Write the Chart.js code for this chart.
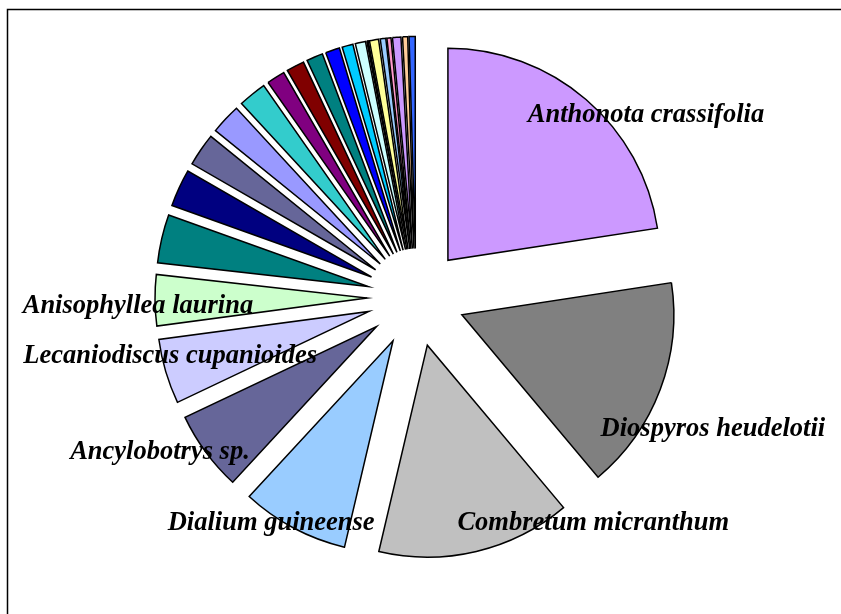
<!DOCTYPE html>
<html>
<head>
<meta charset="utf-8">
<script src="https://cdn.jsdelivr.net/npm/chart.js@4/dist/chart.umd.min.js"></script>
<style>
  html, body { margin: 0; padding: 0; background: #fff; }
  canvas { display: block; }
</style>
</head>
<body>
<canvas id="pieChart" width="841" height="614"></canvas>
<script>
// species shares (%), clockwise from 12 o'clock
const species = [
  "Anthonota crassifolia", "Diospyros heudelotii", "Combretum micranthum",
  "Dialium guineense", "Ancylobotrys sp.", "Lecaniodiscus cupanioides",
  "Anisophyllea laurina", "", "", "", "", "", "", "", "", "", "", "", "", "", "", "", "", "", ""
];
const shares = [
  22.58, 16.31, 14.78, 8.19, 6.08, 4.94, 3.89, 3.69, 2.86, 2.50, 2.31, 2.14,
  1.39, 1.36, 1.25, 1.08, 0.83, 0.78, 0.11, 0.69, 0.42, 0.31, 0.64, 0.39, 0.47
];

const sliceColors = [
  "#CC99FF", "#808080", "#C0C0C0", "#99CCFF", "#666699", "#CCCCFF", "#CCFFCC",
  "#008080", "#000080", "#666699", "#9999FF", "#33CCCC", "#800080", "#800000",
  "#008080", "#0000FF", "#00CCFF", "#CCFFFF", "#CCFFCC", "#FFFF99", "#99CCFF",
  "#FF99CC", "#CC99FF", "#FFCC99", "#3366FF"
];

// where each label sits: [degrees clockwise from top, distance in radii]
const labelSpots = [
  [51.3, 1.39], [113.6, 1.528], [141.6, 1.346], [212.9, 1.258],
  [239.2, 1.406], [257.0, 1.19], [268.6, 1.312]
];

const EXPLODE = 49;

// every slice pushed out the same distance, like an exploded Excel pie
const explodePlugin = {
  id: "explode",
  beforeDatasetDraw(chart, args) {
    const ctx = chart.ctx;
    args.meta.data.forEach(arc => {
      const mid = (arc.startAngle + arc.endAngle) / 2;
      ctx.save();
      ctx.translate(Math.cos(mid) * EXPLODE, Math.sin(mid) * EXPLODE);
      arc.draw(ctx);
      ctx.restore();
    });
    return false;
  }
};

const labelPlugin = {
  id: "sliceLabels",
  afterDatasetsDraw(chart) {
    const ctx = chart.ctx;
    const arc0 = chart.getDatasetMeta(0).data[0];
    const cx = arc0.x, cy = arc0.y, r = arc0.outerRadius;
    ctx.save();
    ctx.font = "italic bold 26.5px 'Liberation Serif', 'Times New Roman', serif";
    ctx.fillStyle = "#000";
    ctx.textAlign = "center";
    ctx.textBaseline = "middle";
    labelSpots.forEach((spot, i) => {
      const a = spot[0] * Math.PI / 180;
      ctx.fillText(species[i], cx + Math.sin(a) * r * spot[1], cy - Math.cos(a) * r * spot[1] + 2);
    });
    ctx.restore();
  }
};

const framePlugin = {
  id: "frame",
  beforeDraw(chart) {
    const ctx = chart.ctx;
    ctx.save();
    ctx.strokeStyle = "#000";
    ctx.lineWidth = 1.5;
    ctx.strokeRect(7.5, 9.5, 900, 700);
    ctx.restore();
  }
};

new Chart(document.querySelector("#pieChart").getContext("2d"), {
  type: "pie",
  data: {
    labels: species,
    datasets: [{
      data: shares,
      backgroundColor: sliceColors,
      borderColor: "#000",
      borderWidth: 1.5,
      borderJoinStyle: "miter"
    }]
  },
  options: {
    responsive: false,
    animation: false,
    events: [],
    radius: 212,
    layout: { padding: { left: 0, right: 9, top: 0, bottom: 19 } },
    plugins: {
      legend: { display: false },
      tooltip: { enabled: false }
    }
  },
  plugins: [framePlugin, explodePlugin, labelPlugin]
});
</script>
</body>
</html>
